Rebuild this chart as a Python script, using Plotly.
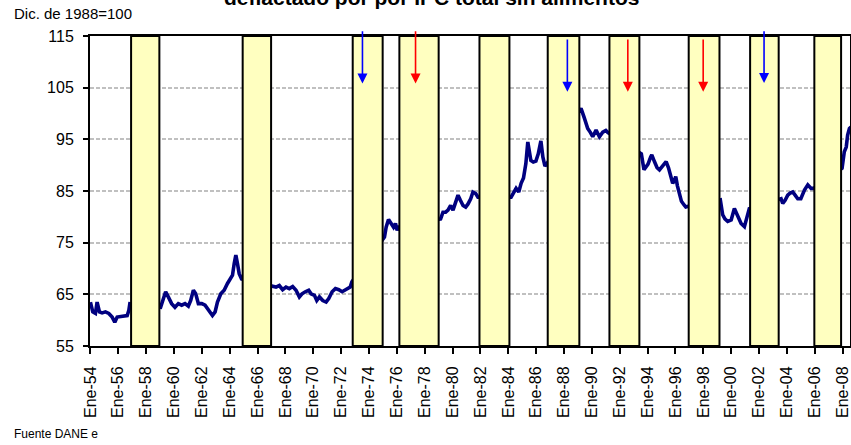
import plotly.graph_objects as go

# ---- data (decimal years, index Dic. 1988 = 100) ----
years = [
    1954.00, 1954.17, 1954.36, 1954.48, 1954.65, 1954.84, 1955.08, 1955.32, 1955.56, 1955.75,
    1955.92, 1956.16, 1956.40, 1956.64, 1956.76, 1956.83,
    1959.04, 1959.21, 1959.40, 1959.59, 1959.83, 1960.07, 1960.31, 1960.55, 1960.79, 1961.03,
    1961.20, 1961.39, 1961.56, 1961.75, 1961.99, 1962.23, 1962.52, 1962.76, 1962.95, 1963.12,
    1963.36, 1963.60, 1963.84, 1964.01, 1964.20, 1964.32, 1964.44, 1964.56, 1964.68, 1964.85,
    1967.08, 1967.32, 1967.56, 1967.80, 1968.04, 1968.28, 1968.52, 1968.76, 1969.00, 1969.19,
    1969.43, 1969.67, 1969.84, 1970.08, 1970.25, 1970.44, 1970.68, 1970.92, 1971.11, 1971.35,
    1971.59, 1971.83, 1972.07, 1972.24, 1972.48, 1972.65, 1972.77,
    1975.11, 1975.23, 1975.40, 1975.59, 1975.76, 1975.90, 1976.02, 1976.12,
    1979.14, 1979.31, 1979.50, 1979.67, 1979.86, 1980.03, 1980.23, 1980.39, 1980.56, 1980.75,
    1980.94, 1981.11, 1981.30, 1981.46, 1981.66, 1981.82,
    1984.20, 1984.39, 1984.56, 1984.75, 1984.92, 1985.09, 1985.26, 1985.40, 1985.62, 1985.79,
    1985.98, 1986.15, 1986.34, 1986.48, 1986.63, 1986.75,
    1989.22, 1989.45, 1989.70, 1989.90, 1990.06, 1990.30, 1990.54, 1990.78, 1991.00, 1991.15,
    1993.55, 1993.74, 1993.86, 1994.03, 1994.22, 1994.30, 1994.49, 1994.68, 1994.85, 1995.06,
    1995.23, 1995.33, 1995.50, 1995.64, 1995.80, 1995.90, 1996.02, 1996.14, 1996.28, 1996.43,
    1996.62, 1996.74, 1996.86,
    1999.22, 1999.39, 1999.55, 1999.75, 2000.00, 2000.23, 2000.47, 2000.71, 2000.95, 2001.19,
    2001.30,
    2003.58, 2003.70, 2003.87, 2004.06, 2004.23, 2004.42, 2004.59, 2004.78, 2005.00, 2005.26,
    2005.50, 2005.74, 2005.91,
    2007.96, 2008.12, 2008.26, 2008.36, 2008.49, 2008.60,
]
salario_real = [
    63.5, 61.6, 61.3, 63.5, 61.6, 61.4, 61.6, 61.3, 60.6, 59.6,
    60.6, 60.7, 60.9, 60.9, 61.9, 63.2,
    62.5, 63.8, 65.5, 64.5, 63.2, 62.5, 63.2, 62.9, 63.2, 62.7,
    63.8, 65.8, 65.1, 63.2, 63.2, 62.9, 61.9, 60.9, 61.6, 63.5,
    65.1, 65.8, 67.1, 68.0, 68.7, 70.9, 72.6, 70.9, 69.0, 68.0,
    66.7, 66.4, 66.7, 65.9, 66.4, 66.1, 66.5, 65.8, 64.5, 65.1,
    65.5, 65.8, 65.1, 64.8, 63.8, 64.5, 63.8, 63.5, 64.2, 65.5,
    66.1, 65.9, 65.5, 65.8, 66.1, 66.4, 67.4,
    76.1, 78.0, 79.5, 78.7, 78.0, 78.7, 77.4, 78.0,
    79.6, 80.9, 80.9, 81.3, 82.2, 81.3, 83.2, 84.2, 83.2, 82.2,
    81.9, 82.5, 83.5, 84.8, 84.5, 83.8,
    83.8, 84.8, 85.5, 84.8, 86.5, 87.5, 90.3, 94.5, 90.9, 90.6,
    90.8, 92.2, 94.7, 91.6, 89.8, 90.2,
    101.0, 99.2, 97.1, 96.3, 95.5, 96.8, 95.5, 96.4, 96.7, 96.3,
    92.2, 89.1, 89.5, 90.2, 91.6, 92.0, 90.7, 89.5, 89.1, 89.8,
    90.3, 90.7, 89.5, 88.3, 86.5, 86.9, 87.8, 86.0, 84.6, 83.0,
    82.3, 81.9, 82.0,
    83.3, 80.4, 79.6, 79.1, 79.4, 81.6, 80.0, 78.7, 78.1, 80.7,
    81.6,
    83.5, 82.6, 83.2, 84.2, 84.6, 84.8, 84.2, 83.5, 83.5, 85.2,
    86.2, 85.5, 85.5,
    89.4, 92.6, 93.5, 95.8, 97.1, 97.4,
]

# shaded periods (yellow columns)
bar_start = [1956.92, 1964.93, 1972.83, 1976.18, 1981.93, 1986.83, 1991.26, 1996.95, 2001.36, 2005.97]
bar_end = [1958.95, 1966.97, 1974.98, 1979.00, 1984.08, 1989.10, 1993.41, 1999.16, 2003.41, 2007.89]
bar_base = [55] * 10
bar_top = [115] * 10

# arrows
arrow_year = [1973.53, 1977.34, 1988.24, 1992.58, 1997.99, 2002.36]
arrow_from = [116.2, 116.2, 114.6, 114.6, 114.6, 116.2]
arrow_to = [105.8, 105.8, 104.2, 104.2, 104.2, 105.9]
arrow_color = ["#0000FF", "#FF0000", "#0000FF", "#FF0000", "#FF0000", "#0000FF"]

tick_years = [1954, 1956, 1958, 1960, 1962, 1964, 1966, 1968, 1970, 1972, 1974, 1976, 1978,
              1980, 1982, 1984, 1986, 1988, 1990, 1992, 1994, 1996, 1998, 2000, 2002, 2004,
              2006, 2008]
tick_labels = ["Ene-54", "Ene-56", "Ene-58", "Ene-60", "Ene-62", "Ene-64", "Ene-66", "Ene-68",
               "Ene-70", "Ene-72", "Ene-74", "Ene-76", "Ene-78", "Ene-80", "Ene-82", "Ene-84",
               "Ene-86", "Ene-88", "Ene-90", "Ene-92", "Ene-94", "Ene-96", "Ene-98", "Ene-00",
               "Ene-02", "Ene-04", "Ene-06", "Ene-08"]
y_ticks = [55, 65, 75, 85, 95, 105, 115]

title_text = "deflactado por por IPC total sin alimentos"
y_title = "Dic. de 1988=100"
source_text = "Fuente DANE e"

FONT = "Liberation Sans, Arial, sans-serif"

fig = go.Figure()
fig.add_trace(go.Scatter(
    x=years, y=salario_real, mode="lines",
    line=dict(color="#000080", width=3.6, shape="linear"),
    hoverinfo="skip", showlegend=False,
))

shapes = []
for s, e, b, t in zip(bar_start, bar_end, bar_base, bar_top):
    shapes.append(dict(type="rect", xref="x", yref="y", x0=s, x1=e, y0=b, y1=t,
                       fillcolor="#FFFFC0", line=dict(color="#000000", width=2),
                       layer="above"))

annotations = []
for xa, y0, y1, c in zip(arrow_year, arrow_from, arrow_to, arrow_color):
    annotations.append(dict(x=xa, y=y1, ax=xa, ay=y0, xref="x", yref="y",
                            axref="x", ayref="y", text="", showarrow=True,
                            arrowhead=2, arrowsize=1.25, arrowwidth=1.6,
                            arrowcolor=c, standoff=0, startstandoff=0))

annotations.append(dict(text="<b>" + title_text + "</b>", xref="paper", yref="paper",
                        x=0.449, y=1.124, xanchor="center", yanchor="middle",
                        showarrow=False, font=dict(family=FONT, size=21, color="#000000")))
annotations.append(dict(text=y_title, xref="paper", yref="paper",
                        x=-0.1026, y=1.072, xanchor="left", yanchor="middle",
                        showarrow=False, font=dict(family=FONT, size=15, color="#000000")))
annotations.append(dict(text=source_text, xref="paper", yref="paper",
                        x=-0.1026, y=-0.284, xanchor="left", yanchor="middle",
                        showarrow=False, font=dict(family=FONT, size=12, color="#000000")))

fig.update_layout(
    width=851, height=445,
    margin=dict(l=90, r=1, t=36, b=99, autoexpand=False),
    paper_bgcolor="#FFFFFF", plot_bgcolor="#FFFFFF",
    shapes=shapes, annotations=annotations,
    showlegend=False,
    font=dict(family=FONT, color="#000000"),
    xaxis=dict(range=[1953.97, 2008.53], tickmode="array", tickvals=tick_years,
               ticktext=tick_labels, tickangle=-90, ticks="outside", ticklen=6,
               tickwidth=2, tickcolor="#000000", showgrid=False, zeroline=False,
               showline=True, linecolor="#000000", linewidth=2, mirror=True,
               tickfont=dict(family=FONT, size=16, color="#000000"),
               ticklabelstandoff=6, automargin=False),
    yaxis=dict(range=[55, 115], tickmode="array", tickvals=y_ticks, ticks="outside",
               ticklen=5, tickwidth=2, tickcolor="#000000", showgrid=True,
               gridcolor="#C0C0C0", gridwidth=2, griddash="4px,2px", zeroline=False,
               showline=True, linecolor="#000000", linewidth=2, mirror=True,
               tickfont=dict(family=FONT, size=16, color="#000000"),
               ticklabelstandoff=6, automargin=False),
)

fig.write_html("out.html", config={"displayModeBar": False},
               post_script="document.body.style.margin='0px';document.body.style.overflow='hidden';")
